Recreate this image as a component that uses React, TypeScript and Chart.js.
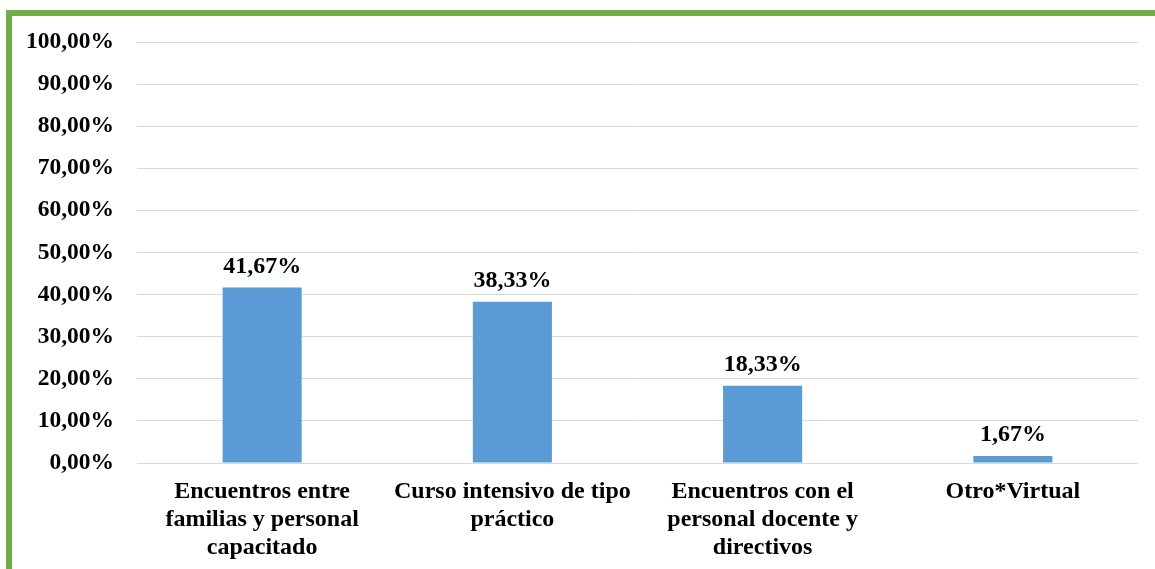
import React, { useEffect, useRef } from "react";
import { Chart, registerables } from "chart.js";

Chart.register(...registerables);

const categories: string[][] = [
  ["Encuentros entre", "familias y personal", "capacitado"],
  ["Curso intensivo de tipo", "práctico"],
  ["Encuentros con el", "personal docente y", "directivos"],
  ["Otro*Virtual"],
];
const values: number[] = [41.67, 38.33, 18.33, 1.67];

const fmt = (v: number) => v.toFixed(2).replace(".", ",") + "%";

const FONT = "'Liberation Serif', 'Times New Roman', serif";

const labelPlugin = {
  id: "barLabels",
  afterDatasetsDraw(chart: any) {
    const ctx = chart.ctx;
    const meta = chart.getDatasetMeta(0);
    ctx.save();
    ctx.font = `bold 24px ${FONT}`;
    ctx.fillStyle = "#000";
    ctx.textAlign = "center";
    ctx.textBaseline = "alphabetic";
    meta.data.forEach((bar: any, i: number) => {
      ctx.fillText(fmt(values[i]), bar.x, bar.y - 15);
    });
    ctx.restore();
  },
};

export default function App() {
  const ref = useRef<HTMLCanvasElement>(null);
  useEffect(() => {
    if (!ref.current) return;
    const chart = new Chart(ref.current, {
      type: "bar",
      data: {
        labels: categories,
        datasets: [
          {
            data: values,
            backgroundColor: "#5B9BD5",
            barPercentage: 0.316,
            categoryPercentage: 1,
          },
        ],
      },
      options: {
        animation: false,
        responsive: false,
        maintainAspectRatio: false,
        layout: { padding: { top: 42, right: 17, left: 0, bottom: 0 } },
        plugins: { legend: { display: false }, tooltip: { enabled: false } },
        scales: {
          x: {
            grid: { display: false, drawTicks: false },
            border: { display: false },
            ticks: {
              color: "#000",
              font: { family: FONT, size: 24, weight: "bold", lineHeight: 1.17 },
              padding: 15,
              maxRotation: 0,
              autoSkip: false,
            },
            afterFit: (s: any) => {
              s.height = 106;
            },
          },
          y: {
            min: 0,
            max: 100,
            grid: { color: "#D9D9D9", lineWidth: 1, drawTicks: false },
            border: { display: false },
            ticks: {
              stepSize: 10,
              color: "#000",
              font: { family: FONT, size: 23.5, weight: "bold" },
              padding: 23,
              callback: (v: any) => fmt(Number(v)),
            },
            afterFit: (s: any) => {
              s.width = 137;
            },
          },
        },
      },
      plugins: [labelPlugin],
    });
    return () => chart.destroy();
  }, []);
  return (
    <div style={{ position: "fixed", left: 0, top: 0, width: 1155, height: 569, background: "#fff" }}>
      <div
        style={{
          position: "absolute",
          left: 6,
          top: 10,
          width: 1149,
          height: 559,
          borderLeft: "6px solid #70AD47",
          borderTop: "6px solid #70AD47",
          boxSizing: "border-box",
        }}
      />
      <canvas ref={ref} width={1155} height={569} style={{ position: "absolute", left: 0, top: 0 }} />
    </div>
  );
}
